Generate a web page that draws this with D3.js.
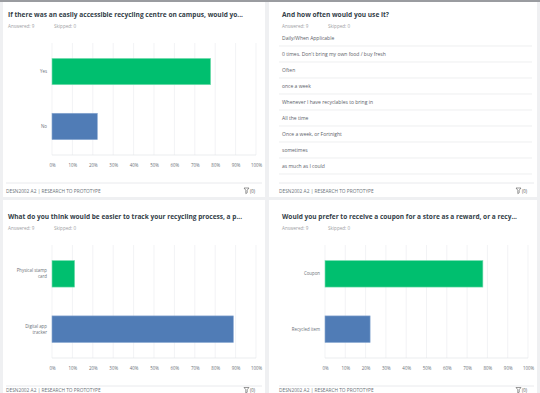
<!DOCTYPE html>
<html><head><meta charset="utf-8">
<script src="https://cdn.jsdelivr.net/npm/d3@7"></script>
<style>
html,body{margin:0;padding:0;background:#eff0f2;}
svg{display:block;font-family:"Open Sans","Noto Sans",sans-serif;}
</style></head>
<body><svg id="c" width="540" height="393"></svg>
<script>
// ---- data ----
const q1Title = "If there was an easily accessible recycling centre on campus, would yo...";
const q1Categories = ["Yes", "No"];
const q1Values = [77.78, 22.22];

const q2Title = "And how often would you use it?";
const q2Responses = ["Daily/When Applicable", "0 times. Don't bring my own food / buy fresh", "Often", "once a week",
  "Whenever I have recyclables to bring in", "All the time", "Once a week, or Fortnight", "sometimes", "as much as I could"];

const q3Title = "What do you think would be easier to track your recycling process, a p...";
const q3Categories = [["Physical stamp", "card"], ["Digital app", "tracker"]];
const q3Values = [11.11, 88.89];

const q4Title = "Would you prefer to receive a coupon for a store as a reward, or a recy...";
const q4Categories = ["Coupon", "Recycled item"];
const q4Values = [77.78, 22.22];

const answeredLabels = ["Answered: 9", "Skipped: 0"];
const tickValues = [0,10,20,30,40,50,60,70,80,90,100];
const footerText = "DESN2002 A2 | RESEARCH TO PROTOTYPE";
const barColors = ["#00bf6f", "#507cb6"];

const svg = d3.select("#c");
svg.append("rect").attr("x",0).attr("y",0).attr("width",540).attr("height",2).attr("fill","#9a9ca0");

const cards = [
  {x:3, y:2, w:262, h:195},
  {x:269, y:2, w:268, h:195},
  {x:3, y:200, w:262, h:200},
  {x:269, y:200, w:268, h:200}
];
cards.forEach(c => svg.append("rect").attr("x",c.x).attr("y",c.y).attr("width",c.w).attr("height",c.h).attr("fill","#fff"));

function header(g, x, y, title, width) {
  g.append("text").attr("x",x).attr("y",y).attr("font-size",7.2).attr("font-weight",700).attr("fill","#333e48")
    .attr("textLength",width).attr("lengthAdjust","spacingAndGlyphs").text(title);
  g.append("text").attr("x",x).attr("y",y+11.5).attr("font-size",4.6).attr("fill","#9da0a4").text(answeredLabels[0]);
  g.append("text").attr("x",x+46).attr("y",y+11.5).attr("font-size",4.6).attr("fill","#9da0a4").text(answeredLabels[1]);
}
function footer(g, x0, x1, y, ty) {
  g.append("line").attr("x1",x0).attr("x2",x1).attr("y1",y).attr("y2",y).attr("stroke","#e3e5e8").attr("stroke-width",0.8);
  g.append("text").attr("x",x0).attr("y",ty).attr("font-size",4.8).attr("fill","#6b7178").text(footerText);
  const fx = x1-12;
  g.append("path").attr("d",`M${fx-6},${ty-4.5} h5 l-1.8,2.2 v2.6 l-1.4,0.8 v-3.4 z`).attr("fill","none").attr("stroke","#555").attr("stroke-width",0.6);
  g.append("text").attr("x",fx).attr("y",ty).attr("font-size",4.4).attr("fill","#555").text("(0)");
}

function barChart(g, cats, vals, left, right, top, bottom) {
  const x = d3.scaleLinear().domain([0,100]).range([left,right]);
  g.selectAll(".grid").data(tickValues).enter().append("line")
    .attr("x1",d=>x(d)).attr("x2",d=>x(d)).attr("y1",top).attr("y2",bottom)
    .attr("stroke","#eceef0").attr("stroke-width",0.7);
  g.append("line").attr("x1",left).attr("x2",right).attr("y1",bottom).attr("y2",bottom).attr("stroke","#e3e5e8").attr("stroke-width",0.7);
  const y = d3.scaleBand().domain(d3.range(cats.length)).range([top,bottom]).paddingInner(0.52).paddingOuter(0.28);
  g.selectAll(".bar").data(vals).enter().append("rect")
    .attr("x",left).attr("y",(d,i)=>y(i)).attr("width",d=>x(d)-left).attr("height",y.bandwidth())
    .attr("fill",(d,i)=>barColors[i]).attr("stroke",(d,i)=>i===0?"#7fe0b5":"#8aa9d2").attr("stroke-width",0.6);
  cats.forEach((c,i) => {
    const lines = Array.isArray(c) ? c : [c];
    const cy = y(i) + y.bandwidth()/2;
    const t = g.append("text").attr("text-anchor","end").attr("font-size",4.4).attr("fill","#6b7178");
    lines.forEach((l,j) => t.append("tspan").attr("x",left-5).attr("y",cy+1.5+(j-(lines.length-1)/2)*6).text(l));
  });
  const ax = g.append("g").attr("transform",`translate(0,${bottom+9})`)
    .call(d3.axisBottom(x).tickValues(tickValues).tickFormat(d=>d+"%").tickSize(0).tickPadding(0));
  ax.select(".domain").remove();
  ax.selectAll("text").attr("font-size",4.4).attr("fill","#6b7178").attr("font-family","'Open Sans',sans-serif");
}

// Card 1
const g1 = svg.append("g");
header(g1, 8, 16.5, q1Title, 235);
barChart(g1, q1Categories, q1Values, 52, 256, 43, 155);
footer(g1, 6, 262, 183, 192.5);

// Card 2
const g2 = svg.append("g");
header(g2, 282, 16.5, q2Title, 107);
const rowY = d3.scaleBand().domain(d3.range(q2Responses.length)).range([30, 174]);
q2Responses.forEach((r,i) => {
  g2.append("text").attr("x",282).attr("y",rowY(i)+rowY.bandwidth()/2+1.7).attr("font-size",5.0).attr("fill","#5b6168").text(r);
  g2.append("line").attr("x1",279).attr("x2",532).attr("y1",rowY(i)+rowY.bandwidth()).attr("y2",rowY(i)+rowY.bandwidth())
    .attr("stroke","#e6e8ea").attr("stroke-width",0.7);
});
footer(g2, 279, 534, 183, 192.5);

// Card 3
const g3 = svg.append("g");
header(g3, 8, 218.5, q3Title, 234);
barChart(g3, q3Categories, q3Values, 52, 256, 245, 358);
footer(g3, 6, 262, 386, 392);

// Card 4
const g4 = svg.append("g");
header(g4, 282, 218.5, q4Title, 235);
barChart(g4, q4Categories, q4Values, 325, 528, 245, 358);
footer(g4, 279, 534, 386, 392);
</script></body></html>
